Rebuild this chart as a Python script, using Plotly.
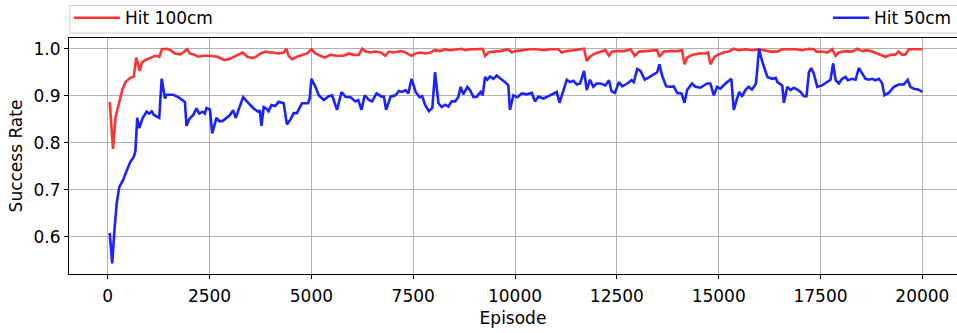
import plotly.graph_objects as go

# Success rate per training episode for two hit radii
ep_100 = [50, 130, 190, 275, 356, 437, 558, 640, 700, 785, 840, 920, 1045, 1165, 1270, 1330,
          1450, 1545, 1650, 1770, 1855, 1950, 2015, 2135, 2215, 2340, 2500, 2700, 2865, 2985,
          3145, 3310, 3430, 3550, 3635, 3755, 3875, 3955, 4030, 4195, 4320, 4385, 4440, 4525,
          4645, 4770, 4895, 5000, 5100, 5220, 5330, 5465, 5630, 5795, 5920, 6040, 6165, 6245,
          6330, 6450, 6575, 6695, 6820, 6900, 7025, 7190, 7310, 7460, 7560, 7680, 7805, 7925,
          8035, 8160, 8280, 8405, 8570, 8690, 8775, 8895, 9060, 9205, 9265, 9345, 9470, 9630,
          9835, 9920, 10000, 10165, 10370, 10530, 10695, 10860, 11065, 11145, 11270, 11430,
          11695, 11760, 11840, 11965, 12085, 12220, 12305, 12385, 12510, 12670, 12835, 12940,
          13040, 13205, 13365, 13490, 13545, 13650, 13775, 13980, 14100, 14160, 14225, 14345,
          14510, 14675, 14740, 14795, 14900, 15000, 15125, 15245, 15370, 15490, 15655, 15815,
          15980, 16150, 16275, 16440, 16560, 16725, 16885, 17050, 17215, 17335, 17400, 17540,
          17665, 17785, 17870, 17950, 18115, 18275, 18400, 18520, 18645, 18765, 18890, 19010,
          19095, 19215, 19340, 19420, 19500, 19585, 19665, 19830, 20000]
rate_100 = [0.887, 0.787, 0.853, 0.884, 0.912, 0.929, 0.938, 0.941, 0.981, 0.953, 0.971, 0.976,
            0.980, 0.985, 0.983, 0.999, 1.000, 0.997, 0.990, 0.988, 0.992, 0.999, 0.990, 0.987,
            0.983, 0.985, 0.985, 0.983, 0.976, 0.978, 0.985, 0.992, 0.983, 0.980, 0.983, 0.990,
            0.994, 0.992, 0.992, 0.990, 0.992, 1.000, 0.985, 0.978, 0.983, 0.987, 0.990, 0.999,
            0.990, 0.985, 0.981, 0.987, 0.985, 0.985, 0.990, 0.987, 0.987, 1.000, 0.994, 0.992,
            0.994, 0.992, 0.985, 0.994, 0.992, 0.995, 0.992, 0.985, 0.990, 0.992, 0.990, 0.992,
            0.997, 0.995, 0.999, 0.997, 0.999, 1.000, 0.997, 0.999, 0.999, 1.000, 0.985, 0.992,
            0.994, 0.995, 0.999, 0.992, 0.995, 0.997, 0.999, 0.999, 0.997, 0.999, 0.999, 0.992,
            0.995, 0.997, 1.000, 0.974, 0.983, 0.990, 0.994, 0.997, 0.985, 0.994, 0.995, 0.995,
            0.999, 0.985, 0.994, 0.995, 0.997, 0.997, 0.983, 0.994, 0.995, 0.995, 0.997, 0.967,
            0.981, 0.987, 0.990, 0.990, 0.992, 0.967, 0.983, 0.988, 0.992, 0.994, 1.000, 0.997,
            0.999, 0.997, 0.999, 0.997, 0.994, 0.994, 0.999, 0.999, 0.999, 0.997, 1.000, 0.999,
            0.994, 0.994, 0.992, 0.999, 0.985, 0.992, 0.995, 0.994, 1.000, 0.995, 0.997, 0.994,
            0.990, 0.987, 0.983, 0.987, 0.988, 0.994, 0.987, 0.988, 0.999, 0.999, 0.999]

ep_50 = [50, 110, 165, 220, 285, 370, 465, 545, 645, 680, 725, 775, 860, 955, 1020, 1080, 1135,
         1265, 1325, 1405, 1445, 1610, 1730, 1855, 1895, 1935, 2000, 2100, 2180, 2245, 2330,
         2385, 2425, 2510, 2565, 2670, 2735, 2820, 2915, 3000, 3080, 3145, 3225, 3325, 3450,
         3570, 3690, 3735, 3775, 3830, 3895, 3950, 4020, 4115, 4195, 4320, 4400, 4485, 4565,
         4645, 4770, 4920, 4960, 5000, 5100, 5180, 5305, 5425, 5510, 5630, 5740, 5835, 5960,
         6080, 6150, 6230, 6310, 6410, 6490, 6600, 6720, 6780, 6835, 6945, 7065, 7150, 7230,
         7310, 7380, 7460, 7560, 7655, 7720, 7790, 7885, 7970, 8035, 8120, 8200, 8280, 8365,
         8445, 8530, 8610, 8665, 8730, 8830, 8895, 8980, 9060, 9155, 9205, 9265, 9320, 9385,
         9470, 9550, 9630, 9755, 9835, 9875, 9960, 10055, 10165, 10285, 10410, 10490, 10575,
         10695, 10820, 10940, 11025, 11090, 11185, 11270, 11350, 11430, 11515, 11595, 11695,
         11760, 11840, 11920, 12005, 12100, 12220, 12305, 12370, 12450, 12550, 12630, 12755,
         12860, 12915, 13000, 13080, 13185, 13325, 13490, 13545, 13610, 13710, 13815, 13895,
         13980, 14085, 14160, 14225, 14345, 14430, 14550, 14715, 14795, 14880, 14960, 15040,
         15165, 15310, 15370, 15450, 15505, 15570, 15655, 15735, 15815, 15915, 15990, 16060,
         16110, 16195, 16315, 16400, 16440, 16480, 16560, 16600, 16685, 16765, 16845, 16930,
         17010, 17090, 17155, 17215, 17270, 17335, 17420, 17540, 17665, 17745, 17810, 17870,
         17950, 18030, 18115, 18170, 18275, 18360, 18440, 18520, 18605, 18685, 18765, 18850,
         18930, 19010, 19070, 19175, 19300, 19420, 19545, 19640, 19705, 19790, 19910, 20000]
rate_50 = [0.608, 0.543, 0.614, 0.670, 0.706, 0.719, 0.740, 0.757, 0.771, 0.782, 0.853, 0.831,
           0.853, 0.866, 0.862, 0.867, 0.859, 0.853, 0.936, 0.894, 0.902, 0.902, 0.897, 0.890,
           0.887, 0.836, 0.850, 0.859, 0.873, 0.862, 0.866, 0.862, 0.874, 0.871, 0.820, 0.853,
           0.846, 0.846, 0.853, 0.859, 0.869, 0.853, 0.873, 0.897, 0.885, 0.874, 0.866, 0.869,
           0.836, 0.876, 0.873, 0.867, 0.880, 0.878, 0.887, 0.884, 0.839, 0.849, 0.863, 0.863,
           0.884, 0.884, 0.894, 0.936, 0.919, 0.901, 0.891, 0.899, 0.901, 0.870, 0.908, 0.898,
           0.897, 0.888, 0.891, 0.870, 0.901, 0.891, 0.888, 0.905, 0.898, 0.898, 0.870, 0.898,
           0.901, 0.910, 0.908, 0.912, 0.905, 0.936, 0.908, 0.897, 0.899, 0.881, 0.867, 0.874,
           0.950, 0.884, 0.876, 0.881, 0.877, 0.888, 0.888, 0.898, 0.919, 0.903, 0.919, 0.912,
           0.897, 0.898, 0.908, 0.901, 0.940, 0.934, 0.941, 0.936, 0.943, 0.938, 0.929, 0.922,
           0.870, 0.901, 0.897, 0.905, 0.903, 0.906, 0.888, 0.898, 0.894, 0.899, 0.905, 0.908,
           0.885, 0.912, 0.934, 0.929, 0.932, 0.924, 0.926, 0.953, 0.912, 0.934, 0.919, 0.926,
           0.926, 0.922, 0.933, 0.910, 0.906, 0.929, 0.920, 0.926, 0.933, 0.929, 0.957, 0.953,
           0.934, 0.941, 0.950, 0.967, 0.943, 0.920, 0.919, 0.920, 0.906, 0.905, 0.885, 0.912,
           0.926, 0.919, 0.917, 0.926, 0.926, 0.901, 0.919, 0.915, 0.926, 0.936, 0.870, 0.894,
           0.908, 0.898, 0.912, 0.919, 0.913, 0.926, 1.000, 0.975, 0.960, 0.940, 0.936, 0.938,
           0.929, 0.926, 0.922, 0.885, 0.919, 0.912, 0.917, 0.913, 0.908, 0.899, 0.899, 0.950,
           0.959, 0.947, 0.919, 0.922, 0.929, 0.934, 0.969, 0.933, 0.926, 0.936, 0.940, 0.933,
           0.936, 0.934, 0.959, 0.947, 0.936, 0.934, 0.936, 0.933, 0.936, 0.927, 0.901, 0.906,
           0.919, 0.924, 0.924, 0.934, 0.919, 0.915, 0.913, 0.908]

x_ticks = [0, 2500, 5000, 7500, 10000, 12500, 15000, 17500, 20000]
y_ticks = [0.6, 0.7, 0.8, 0.9, 1.0]

FONT = "DejaVu Sans"
FS = 17

fig = go.Figure()
fig.add_trace(go.Scatter(x=ep_100, y=rate_100, mode="lines", name="Hit 100cm",
                         line=dict(color="#ff3333", width=2.6), legend="legend"))
fig.add_trace(go.Scatter(x=ep_50, y=rate_50, mode="lines", name="Hit 50cm",
                         line=dict(color="#1a22ff", width=2.6), legend="legend2"))

axis_common = dict(
    showgrid=True, gridcolor="#b0b0b0", gridwidth=1,
    showline=True, linecolor="black", linewidth=1.2,
    ticks="outside", ticklen=4, tickwidth=1, tickcolor="black",
    tickfont=dict(family=FONT, size=FS, color="black"),
    zeroline=False,
)

legend_common = dict(yanchor="middle", orientation="h",
                     bgcolor="rgba(0,0,0,0)", borderwidth=0,
                     font=dict(family=FONT, size=FS, color="black"))

fig.update_layout(
    width=957, height=333,
    margin=dict(l=69, r=0, t=35, b=59),
    paper_bgcolor="white", plot_bgcolor="white",
    font=dict(family=FONT, size=FS, color="black"),
    xaxis=dict(range=[-950, 20850], tickvals=x_ticks, ticktext=[str(v) for v in x_ticks],
               mirror=True, ticklabelstandoff=2,
               title=dict(text="Episode", font=dict(family=FONT, size=FS), standoff=7),
               **axis_common),
    yaxis=dict(range=[0.5205, 1.0229], tickvals=y_ticks, ticktext=[f"{v:.1f}" for v in y_ticks],
               title=dict(text="Success Rate", font=dict(family=FONT, size=FS), standoff=6),
               **axis_common),
    legend=dict(x=0.0, y=1.084, xanchor="left", itemwidth=46, **legend_common),
    legend2=dict(x=1.0, y=1.084, xanchor="right", itemwidth=36, **legend_common),
    shapes=[dict(type="rect", xref="paper", yref="paper", x0=0.001, x1=1.02,
                 y0=1.021, y1=1.138, line=dict(color="#d0d0d0", width=1),
                 fillcolor="white", layer="below")],
    showlegend=True,
)

fig.write_html("out.html")
